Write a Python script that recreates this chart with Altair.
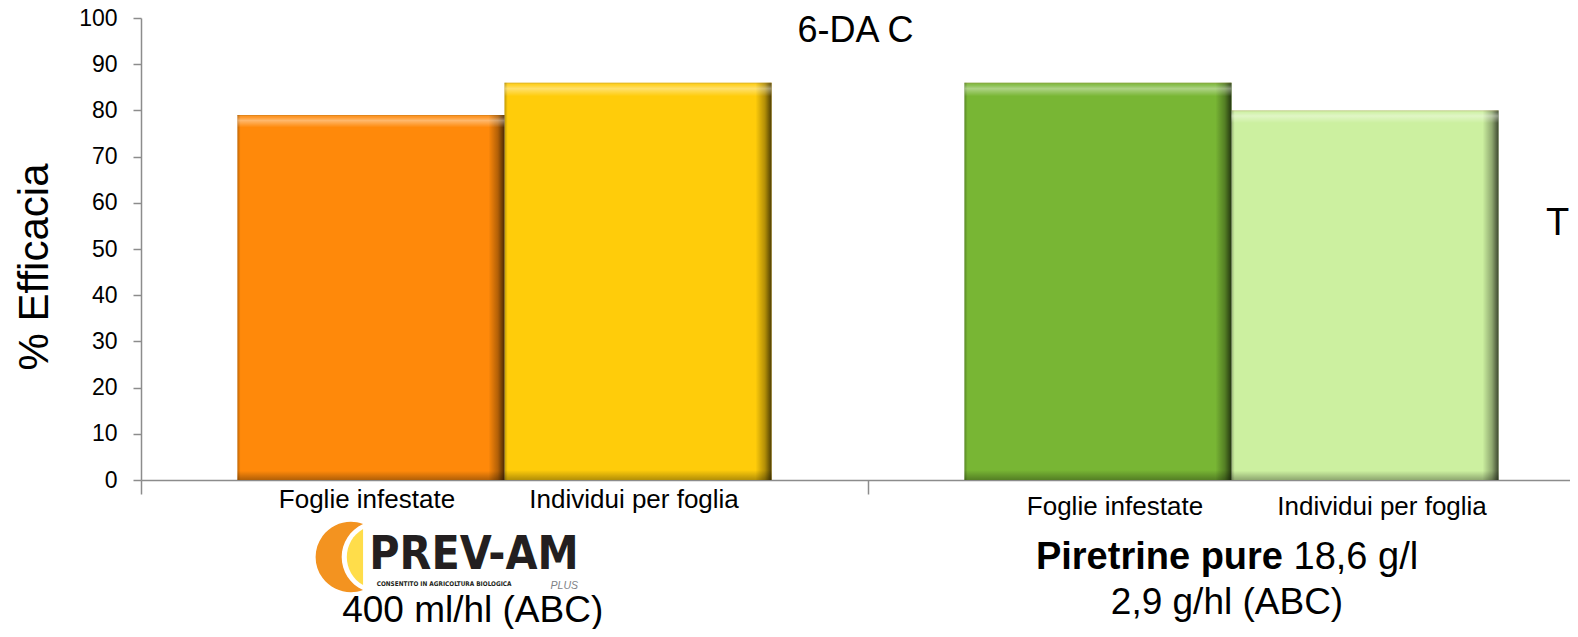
import altair as alt
import pandas as pd

# ---- data ----
groups = ["PREV-AM", "Piretrine pure"]
series = ["Foglie infestate", "Individui per foglia"]
prevam_values = [79, 86]
piretrine_values = [86, 80]
bar_colors = ["#FF890A", "#FFCC0A", "#78B634", "#CCF0A0"]
y_ticks = [0, 10, 20, 30, 40, 50, 60, 70, 80, 90, 100]

rows = []
for g, vals in zip(groups, [prevam_values, piretrine_values]):
    for s, v in zip(series, vals):
        rows.append({"group": g, "serie": s, "value": v, "key": g + " | " + s})
df = pd.DataFrame(rows)
keys = list(df["key"])

FONT = "Liberation Sans"
COND = "DejaVu Sans Condensed, Liberation Sans"
AXIS_GREY = "#8C8C8C"

x_enc = alt.X(
    "group:N", sort=groups,
    scale=alt.Scale(range=[0, 1454], paddingInner=0, paddingOuter=0),
    axis=alt.Axis(labels=False, title=None, ticks=True, tickSize=14, tickColor=AXIS_GREY,
                  tickWidth=1.5, domainColor=AXIS_GREY, domainWidth=1.5, bandPosition=0,
                  grid=False),
)
xo_enc = alt.XOffset("serie:N", sort=series, scale=alt.Scale(paddingOuter=0.361, paddingInner=0))
y_enc = alt.Y(
    "value:Q", scale=alt.Scale(domain=[0, 100], nice=False),
    axis=alt.Axis(values=y_ticks, tickSize=8, tickColor=AXIS_GREY, tickWidth=1.5,
                  domainColor=AXIS_GREY, domainWidth=1.5, grid=False,
                  labelFont=FONT, labelFontSize=23, labelColor="black", labelPadding=16,
                  title="% Efficacia", titleFont=FONT, titleFontSize=42, titleFontWeight="normal",
                  titleColor="black", titleAngle=270, titleX=-94, titleY=248.5,
                  titleAlign="center", titleBaseline="alphabetic"),
)

base = alt.Chart(df).encode(x=x_enc, xOffset=xo_enc, y=y_enc)

bars = base.mark_bar(strokeWidth=0).encode(
    color=alt.Color("key:N", scale=alt.Scale(domain=keys, range=bar_colors), legend=None)
)

def stop(c, o):
    return alt.GradientStop(color=c, offset=o)

side_shade = base.mark_bar(
    color=alt.LinearGradient(
        gradient="linear", x1=0, x2=1, y1=0, y2=0,
        stops=[stop("rgba(0,0,0,0.25)", 0), stop("rgba(0,0,0,0)", 0.012),
               stop("rgba(0,0,0,0)", 0.94), stop("rgba(0,0,0,0.3)", 0.975),
               stop("rgba(0,0,0,0.7)", 1)],
    )
)
top_shade = base.mark_bar(
    color=alt.LinearGradient(
        gradient="linear", x1=0, x2=0, y1=0, y2=1,
        stops=[stop("rgba(120,80,0,0.35)", 0), stop("rgba(255,255,255,0.1)", 0.005),
               stop("rgba(255,255,255,0.4)", 0.015), stop("rgba(255,255,255,0)", 0.034),
               stop("rgba(0,0,0,0)", 0.975), stop("rgba(0,0,0,0.3)", 1)],
    )
)

lab1 = base.transform_filter(alt.datum.group == groups[0]).mark_text(
    font=FONT, fontSize=26, color="black", baseline="alphabetic", dx=-4
).encode(y=alt.value(490), text="serie:N")
lab2 = base.transform_filter(alt.datum.group == groups[1]).mark_text(
    font=FONT, fontSize=26, color="black", baseline="alphabetic", dx=17
).encode(y=alt.value(497), text="serie:N")

one = alt.Data(values=[{}])

def note(text, x, y, size, align="center", weight="normal", color="black", font=FONT, style="normal"):
    return alt.Chart(one).mark_text(
        text=text, font=font, fontSize=size, align=align, baseline="alphabetic",
        fontWeight=weight, color=color, fontStyle=style
    ).encode(x=alt.value(x), y=alt.value(y))

title = note("6-DA C", 714.5, 23.7, 36)
t_right = note("T", 1405, 217, 38, align="left")

# logo (PREV-AM PLUS)
orange_path = "M 0.64 -0.92 A 0.98 0.98 0 1 0 0.64 0.92 A 1.01 1.01 0 0 1 0.64 -0.92 Z"
yellow_path = "M 0.64 -0.78 L 0.64 0.78 A 0.9 0.9 0 0 1 0.64 -0.78 Z"
logo_o = alt.Chart(one).mark_point(shape=orange_path, size=5184, filled=True, color="#F39320",
                                   opacity=1, strokeWidth=0).encode(x=alt.value(199), y=alt.value(539))
logo_y = alt.Chart(one).mark_point(shape=yellow_path, size=5184, filled=True, color="#FFDD4A",
                                   opacity=1, strokeWidth=0).encode(x=alt.value(199), y=alt.value(539))
logo_txt = note("PREV-AM", 333, 551, 46, weight="bold", color="#231F20", font=COND)
logo_sub = note("CONSENTITO IN AGRICOLTURA BIOLOGICA", 235.7, 568, 6.4, align="left", weight="bold",
                color="#231F20", font=COND)
logo_plus = note("PLUS", 437, 571, 10.5, align="right", color="#808285", style="italic")
dose1 = note("400 ml/hl (ABC)", 331.7, 604, 37)

pir_bold = note("Piretrine pure", 1142, 550.6, 38, align="right", weight="bold")
pir_norm = note("18,6 g/l", 1152.5, 550.6, 38, align="left")
dose2 = note("2,9 g/hl (ABC)", 1086, 596, 37)

chart = alt.layer(
    bars, side_shade, top_shade, lab1, lab2, title, t_right,
    logo_o, logo_y, logo_txt, logo_sub, logo_plus, dose1, pir_bold, pir_norm, dose2
).properties(
    width=1429, height=462,
    padding={"left": 133, "top": 10, "right": 0, "bottom": 149},
    autosize=alt.AutoSizeParams(type="none"),
).configure_view(stroke=None)

chart.save("out.html", embed_options={"renderer": "svg", "actions": False})
